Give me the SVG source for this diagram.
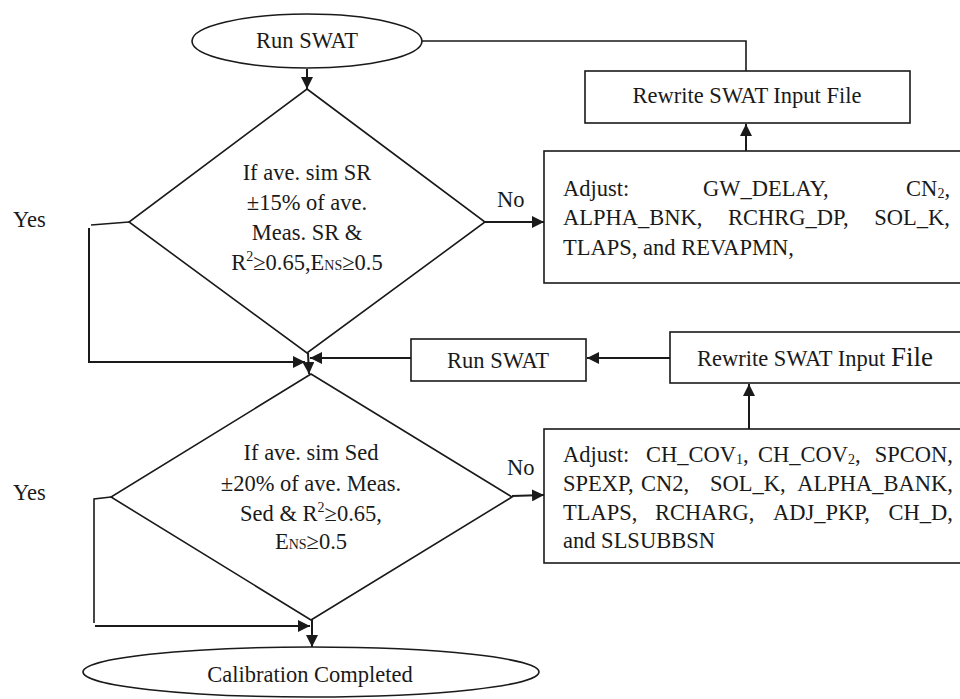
<svg xmlns="http://www.w3.org/2000/svg" width="960" height="699" viewBox="0 0 960 699">
<style>
  .shape { fill: #ffffff; stroke: #1a1a1a; stroke-width: 1.6; }
  .line { fill: none; stroke: #1a1a1a; stroke-width: 1.6; }
  .arrow { fill: none; stroke: #1a1a1a; stroke-width: 2; marker-end: url(#ah); }
  text { font-family: "Liberation Serif", "Times New Roman", serif; font-size: 22.5px; fill: #1a1a1a; }
  .c { text-anchor: middle; }
  .e { text-anchor: end; }
  .sm { font-size: 14px; }
</style>
<defs>
  <marker id="ah" markerUnits="userSpaceOnUse" markerWidth="14" markerHeight="12" refX="12" refY="6" orient="auto">
    <path d="M0,0 L12,6 L0,12 Z" fill="#1a1a1a"/>
  </marker>
</defs>

<g id="connectors">
  <polyline class="line" points="422,41 746,41 746,71"/>
  <line class="arrow" x1="307" y1="69" x2="307" y2="89"/>
  <line class="arrow" x1="746" y1="151" x2="746" y2="124"/>
  <line class="arrow" x1="485" y1="222" x2="544" y2="222"/>
  <polyline class="line" points="129,222 91,225"/>
  <polyline class="arrow" points="89,228 89,362 305,362"/>
  <line class="arrow" x1="411" y1="358" x2="310" y2="358"/>
  <line class="arrow" x1="670" y1="358" x2="587" y2="358"/>
  <line class="arrow" x1="749" y1="429" x2="749" y2="384"/>
  <line class="arrow" x1="308" y1="353" x2="309" y2="374"/>
  <line class="arrow" x1="512" y1="496" x2="544" y2="495"/>
  <polyline class="line" points="111,497 94,499 94,623"/>
  <line class="arrow" x1="95" y1="626" x2="310" y2="626"/>
  <line class="arrow" x1="312" y1="617" x2="312" y2="647"/>
</g>

<g id="start">
  <ellipse class="shape" cx="307" cy="41" rx="115" ry="27"/>
  <text class="c" x="307" y="48">Run SWAT</text>
</g>

<g id="rewrite1">
  <rect class="shape" x="585" y="71" width="325" height="52"/>
  <text class="c" x="747" y="103">Rewrite SWAT Input File</text>
</g>

<g id="decision1">
  <polygon class="shape" points="307,89 485,222 307,353 129,222"/>
  <text class="c" x="307" y="180">If ave. sim SR</text>
  <text class="c" x="307" y="210">±15% of ave.</text>
  <text class="c" x="307" y="240">Meas. SR &amp;</text>
  <text class="c" x="307" y="270">R<tspan class="sm" dy="-9">2</tspan><tspan dy="9">≥0.65,E</tspan><tspan class="sm">NS</tspan>≥0.5</text>
</g>

<g id="label-no1"><text x="497" y="207">No</text></g>
<g id="label-yes1"><text x="13" y="227">Yes</text></g>

<g id="adjust1">
  <rect class="shape" x="544" y="151" width="420" height="132"/>
  <text x="563" y="196">Adjust:</text>
  <text x="703" y="196">GW_DELAY,</text>
  <text class="e" x="950" y="196">CN<tspan class="sm" dy="2">2</tspan><tspan dy="-2">,</tspan></text>
  <text x="563" y="225">ALPHA_BNK,</text>
  <text x="728" y="225">RCHRG_DP,</text>
  <text class="e" x="950" y="225">SOL_K,</text>
  <text x="563" y="255">TLAPS, and REVAPMN,</text>
</g>

<g id="runswat2">
  <rect class="shape" x="411" y="339" width="175" height="42"/>
  <text class="c" x="498" y="368">Run SWAT</text>
</g>

<g id="rewrite2">
  <rect class="shape" x="670" y="332" width="294" height="51"/>
  <text x="697" y="366">Rewrite SWAT Input <tspan font-size="27">File</tspan></text>
</g>

<g id="decision2">
  <polygon class="shape" points="311,374 512,497 311,620 111,497"/>
  <text class="c" x="311" y="460">If ave. sim Sed</text>
  <text class="c" x="311" y="491">±20% of ave. Meas.</text>
  <text class="c" x="311" y="521">Sed &amp; R<tspan class="sm" dy="-9">2</tspan><tspan dy="9">≥0.65,</tspan></text>
  <text class="c" x="311" y="549">E<tspan class="sm">NS</tspan>≥0.5</text>
</g>

<g id="label-no2"><text x="507" y="475">No</text></g>
<g id="label-yes2"><text x="13" y="500">Yes</text></g>

<g id="adjust2">
  <rect class="shape" x="544" y="429" width="420" height="134"/>
  <text x="563" y="462">Adjust:</text>
  <text x="646" y="462">CH_COV<tspan class="sm" dy="2">1</tspan><tspan dy="-2">,</tspan></text>
  <text x="758" y="462">CH_COV<tspan class="sm" dy="2">2</tspan><tspan dy="-2">,</tspan></text>
  <text class="e" x="953" y="462">SPCON,</text>
  <text x="563" y="491">SPEXP,</text>
  <text x="641" y="491">CN2,</text>
  <text x="710" y="491">SOL_K,</text>
  <text class="e" x="953" y="491">ALPHA_BANK,</text>
  <text x="563" y="520">TLAPS,</text>
  <text x="655" y="520">RCHARG,</text>
  <text x="773" y="520">ADJ_PKP,</text>
  <text class="e" x="953" y="520">CH_D,</text>
  <text x="563" y="548">and SLSUBBSN</text>
</g>

<g id="end">
  <ellipse class="shape" cx="311" cy="672" rx="228" ry="25"/>
  <text class="c" x="310" y="682">Calibration Completed</text>
</g>
</svg>
